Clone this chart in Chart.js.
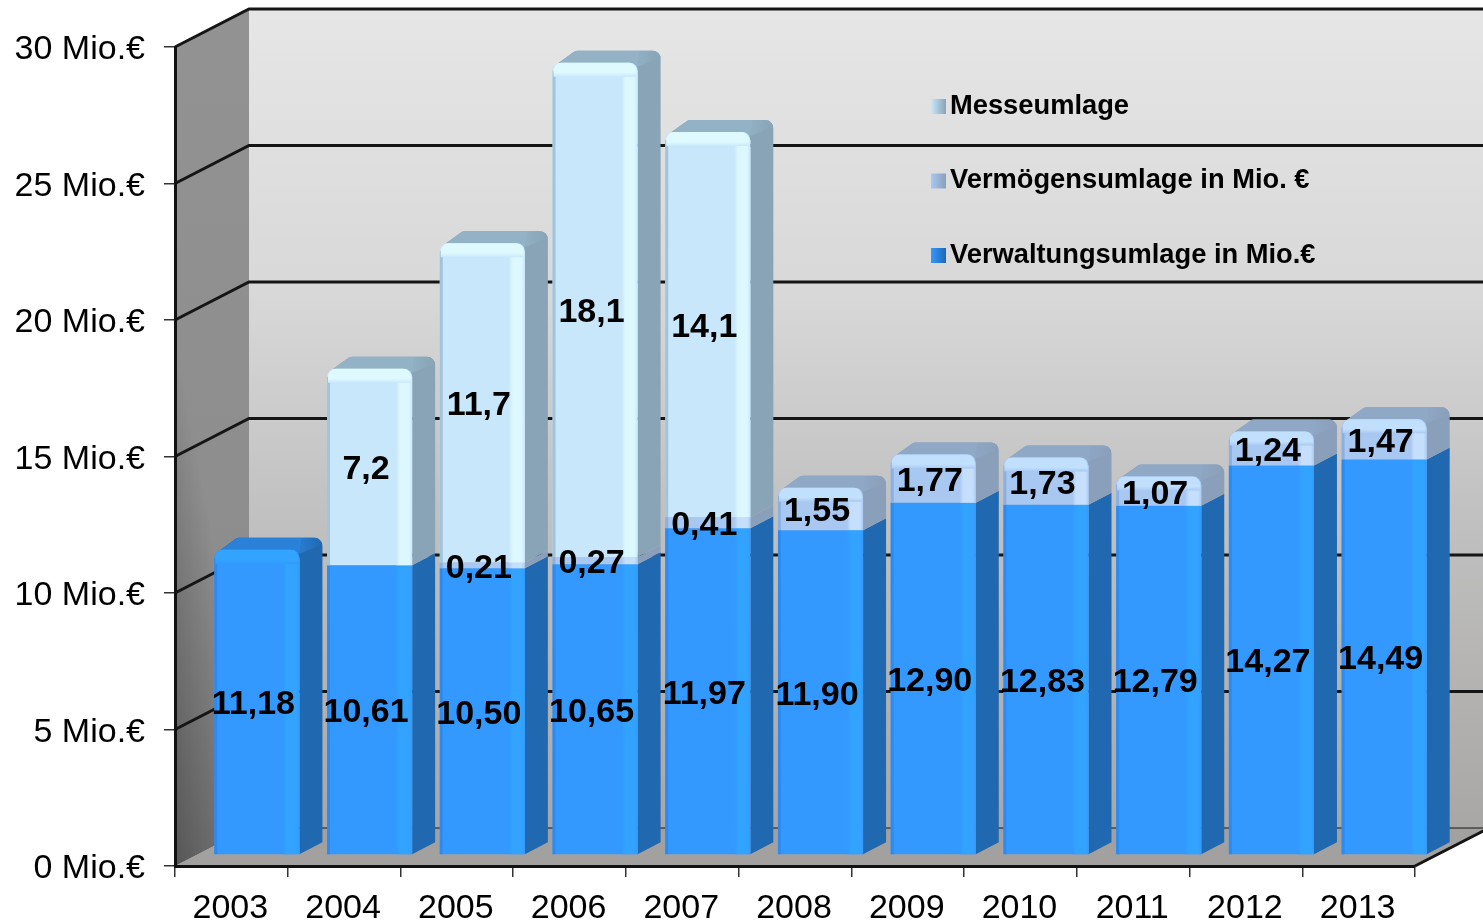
<!DOCTYPE html>
<html lang="de">
<head>
    <meta charset="UTF-8">
    <title>Umlagen 2003-2013</title>
    <style>
        html, body { margin: 0; padding: 0; background: #fff; }
        canvas { display: block; }
    </style>
</head>
<body>
    <canvas id="umlage-chart" width="1483" height="924"></canvas>

    <script src="https://cdn.jsdelivr.net/npm/chart.js"></script>
    <script>
        const years = ['2003', '2004', '2005', '2006', '2007', '2008', '2009', '2010', '2011', '2012', '2013'];
        const verwaltung = [11.18, 10.61, 10.50, 10.65, 11.97, 11.90, 12.90, 12.83, 12.79, 14.27, 14.49];
        const vermoegen = [null, null, 0.21, 0.27, 0.41, 1.55, 1.77, 1.73, 1.07, 1.24, 1.47];
        const messe = [null, 7.2, 11.7, 18.1, 14.1, null, null, null, null, null, null];
        const yTickLabels = ['0 Mio.€', '5 Mio.€', '10 Mio.€', '15 Mio.€', '20 Mio.€', '25 Mio.€', '30 Mio.€'];

        const wall = { x: 74, y: 38 };      // depth of the box
        const shift = { x: 25.5, y: 11 };   // bars stand a bit inside the box
        const depth = { x: 23, y: 12 };     // depth of a bar

        const looks = [
            { face: '#3399ff', side: '#2068b0', cap: '#2b80d8', shine: 'rgba(50,165,255,0.8)', edge: 'rgba(40,130,230,0.6)', top: 'rgba(50,165,255,0.9)', digits: 2 },
            { face: '#a8c8f2', side: '#8a9fb9', cap: '#8fa8c6', shine: 'rgba(205,228,255,0.8)', edge: 'rgba(130,170,220,0.8)', top: 'rgba(195,226,255,0.9)', digits: 2 },
            { face: '#c8e7fb', side: '#88a4b6', cap: '#93b2c5', shine: 'rgba(222,248,255,0.95)', edge: 'rgba(155,192,216,0.9)', top: 'rgba(222,250,255,1)', digits: 1 }
        ];

        function isTop(d, i, datasets) {
            for (let k = d + 1; k < datasets.length; k++) {
                if (datasets[k].data[i] != null) return false;
            }
            return true;
        }

        // polygon with round corners, r per point
        function roundPoly(ctx, pts, r) {
            ctx.beginPath();
            const n = pts.length;
            const last = pts[n - 1], first = pts[0];
            ctx.moveTo((last[0] + first[0]) / 2, (last[1] + first[1]) / 2);
            for (let i = 0; i < n; i++) {
                const p = pts[i], q = pts[(i + 1) % n];
                ctx.arcTo(p[0], p[1], q[0], q[1], r[i]);
            }
            ctx.closePath();
        }

        const boxPlugin = {
            id: 'box',
            beforeDraw(chart) {
                const ctx = chart.ctx, a = chart.chartArea, y = chart.scales.y;
                ctx.save();

                // back wall
                const back = ctx.createLinearGradient(0, a.top - wall.y, 0, a.bottom - wall.y);
                back.addColorStop(0, '#e6e6e6');
                back.addColorStop(0.35, '#d8d8d8');
                back.addColorStop(0.6, '#c2c2c2');
                back.addColorStop(1, '#a9a7a5');
                ctx.fillStyle = back;
                ctx.fillRect(a.left + wall.x, a.top - wall.y, a.width + wall.x, a.height);

                // floor
                ctx.fillStyle = '#a3a1a0';
                ctx.beginPath();
                ctx.moveTo(a.left, a.bottom);
                ctx.lineTo(a.left + wall.x, a.bottom - wall.y);
                ctx.lineTo(a.right + wall.x, a.bottom - wall.y);
                ctx.lineTo(a.right, a.bottom);
                ctx.closePath();
                ctx.fill();

                // left wall
                ctx.beginPath();
                ctx.moveTo(a.left, a.top);
                ctx.lineTo(a.left + wall.x, a.top - wall.y);
                ctx.lineTo(a.left + wall.x, a.bottom - wall.y);
                ctx.lineTo(a.left, a.bottom);
                ctx.closePath();
                const left = ctx.createLinearGradient(0, a.top, 0, a.bottom);
                left.addColorStop(0, '#929292');
                left.addColorStop(1, '#8a8a8a');
                ctx.fillStyle = left;
                ctx.fill();
                const shade = ctx.createLinearGradient(a.left, a.bottom, a.left + 96, a.bottom - 18);
                shade.addColorStop(0, 'rgba(0,0,0,0.38)');
                shade.addColorStop(1, 'rgba(0,0,0,0)');
                ctx.fillStyle = shade;
                ctx.fill();

                // grid lines run over the left wall and along the back
                y.ticks.forEach(t => {
                    const py = y.getPixelForValue(t.value);
                    ctx.strokeStyle = '#151515';
                    if (t.value === 0) {
                        ctx.lineWidth = 1;
                        ctx.beginPath();
                        ctx.moveTo(a.left + wall.x, py - wall.y);
                        ctx.lineTo(a.right + wall.x, py - wall.y);
                        ctx.stroke();
                        return;
                    }
                    ctx.lineWidth = 3;
                    ctx.beginPath();
                    ctx.moveTo(a.left, py);
                    ctx.lineTo(a.left + wall.x, py - wall.y);
                    ctx.lineTo(a.right + wall.x, py - wall.y);
                    ctx.stroke();
                });

                // floor edge on the right
                ctx.lineWidth = 3;
                ctx.beginPath();
                ctx.moveTo(a.right, a.bottom);
                ctx.lineTo(a.right + wall.x, a.bottom - wall.y);
                ctx.stroke();
                ctx.restore();
            }
        };

        const barPlugin = {
            id: 'bars3d',
            beforeDatasetsDraw(chart) {
                const ctx = chart.ctx, datasets = chart.data.datasets;
                ctx.save();
                ctx.translate(shift.x, -shift.y);
                datasets.forEach((ds, d) => {
                    const meta = chart.getDatasetMeta(d), look = looks[d];
                    meta.data.forEach((bar, i) => {
                        if (ds.data[i] == null) return;
                        const r = bar.x + bar.width / 2, l = bar.x - bar.width / 2;
                        const back = { x: r + depth.x, y: bar.y - depth.y };
                        ctx.fillStyle = look.side;
                        if (!isTop(d, i, datasets)) {
                            roundPoly(ctx, [[r, bar.y], [back.x, back.y], [back.x, bar.base - depth.y], [r, bar.base]], [0, 0, 0, 0]);
                            ctx.fill();
                            return;
                        }
                        // side and lid share one outline, lid is painted inside it
                        ctx.save();
                        roundPoly(ctx, [[l + 2, bar.y + 3], [l + depth.x, back.y], [back.x, back.y], [back.x, bar.base - depth.y], [r, bar.base], [r, bar.y + 8]],
                            [2, 7, 8, 0, 0, 0]);
                        ctx.fill();
                        ctx.clip();
                        const lid = ctx.createLinearGradient(r - 4, 0, back.x, 0);
                        lid.addColorStop(0, look.cap);
                        lid.addColorStop(1, look.side);
                        ctx.fillStyle = look.cap;
                        ctx.beginPath();
                        ctx.moveTo(l, bar.y + 4);
                        ctx.lineTo(l + depth.x, back.y - 2);
                        ctx.lineTo(r + 3, back.y - 2);
                        ctx.lineTo(r, bar.y + 4);
                        ctx.closePath();
                        ctx.fill();
                        ctx.fillStyle = lid;
                        ctx.beginPath();
                        ctx.moveTo(r, bar.y + 4);
                        ctx.lineTo(r + 3, back.y - 2);
                        ctx.lineTo(back.x + 2, back.y - 2);
                        ctx.lineTo(back.x + 2, back.y + 6);
                        ctx.closePath();
                        ctx.fill();
                        ctx.restore();
                    });
                });
            },
            afterDatasetsDraw(chart) {
                const ctx = chart.ctx, datasets = chart.data.datasets;
                // soft bevel strips on the front faces
                datasets.forEach((ds, d) => {
                    const meta = chart.getDatasetMeta(d), look = looks[d];
                    meta.data.forEach((bar, i) => {
                        if (ds.data[i] == null) return;
                        const r = bar.x + bar.width / 2, l = bar.x - bar.width / 2;
                        const h = bar.base - bar.y, topOne = isTop(d, i, datasets);
                        const inset = topOne ? Math.min(8, h) : 0;
                        const strip = ctx.createLinearGradient(r - 16, 0, r, 0);
                        strip.addColorStop(0, look.face);
                        strip.addColorStop(0.25, look.shine);
                        strip.addColorStop(0.8, look.shine);
                        strip.addColorStop(1, look.face);
                        ctx.fillStyle = strip;
                        ctx.fillRect(r - 16, bar.y + inset, 16, h - inset);
                        ctx.fillStyle = look.edge;
                        ctx.fillRect(l, bar.y + inset, 3, h - inset);
                        if (topOne) {
                            const lip = ctx.createLinearGradient(0, bar.y, 0, bar.y + 14);
                            lip.addColorStop(0, look.top);
                            lip.addColorStop(0.7, look.top);
                            lip.addColorStop(1, look.face);
                            ctx.fillStyle = lip;
                            roundPoly(ctx, [[l + 1, bar.y], [r - 1, bar.y], [r - 1, bar.y + 14], [l + 1, bar.y + 14]], [8, 8, 0, 0]);
                            ctx.fill();
                        }
                    });
                });
                ctx.restore();

                // value labels
                ctx.save();
                ctx.font = 'bold 34px "Liberation Sans"';
                ctx.fillStyle = '#000';
                ctx.textAlign = 'center';
                ctx.textBaseline = 'middle';
                datasets.forEach((ds, d) => {
                    const meta = chart.getDatasetMeta(d);
                    meta.data.forEach((bar, i) => {
                        if (ds.data[i] == null) return;
                        const text = ds.data[i].toFixed(looks[d].digits).replace('.', ',');
                        ctx.fillText(text, bar.x + shift.x - 3.5, (bar.y + bar.base) / 2 - shift.y + 3);
                    });
                });
                ctx.restore();

                // legend, top series first
                ctx.save();
                ctx.font = 'bold 27.3px "Liberation Sans"';
                ctx.textAlign = 'left';
                ctx.textBaseline = 'middle';
                [2, 1, 0].forEach((d, row) => {
                    const ly = 106 + row * 74.5;
                    const g = ctx.createLinearGradient(931, 0, 946, 0);
                    g.addColorStop(0, looks[d].face);
                    g.addColorStop(1, looks[d].side);
                    ctx.fillStyle = g;
                    ctx.fillRect(931, ly - 7, 15, 15);
                    ctx.fillStyle = '#000';
                    ctx.fillText(datasets[d].label, 950, ly);
                });
                ctx.restore();
            }
        };

        function makeSet(label, data, index) {
            return {
                label: label,
                data: data,
                backgroundColor: looks[index].face,
                borderWidth: 0,
                clip: false,
                borderRadius: c => isTop(c.datasetIndex, c.dataIndex, c.chart.data.datasets)
                    ? { topLeft: 8, topRight: 8, bottomLeft: 0, bottomRight: 0 } : 0,
                borderSkipped: false
            };
        }

        new Chart(document.getElementById('umlage-chart'), {
            type: 'bar',
            data: {
                labels: years,
                datasets: [
                    makeSet('Verwaltungsumlage in Mio.€', verwaltung, 0),
                    makeSet('Vermögensumlage in Mio. €', vermoegen, 1),
                    makeSet('Messeumlage', messe, 2)
                ]
            },
            options: {
                responsive: false,
                animation: false,
                barPercentage: 0.755,
                categoryPercentage: 1,
                layout: { padding: { top: 47, right: 68, left: 0, bottom: 0 } },
                plugins: { legend: { display: false }, tooltip: { enabled: false } },
                scales: {
                    x: {
                        stacked: true,
                        afterFit: s => { s.height = 58; },
                        border: { color: '#111', width: 3 },
                        grid: { drawOnChartArea: false, tickLength: 11, color: '#333', lineWidth: 1.5 },
                        ticks: { color: '#000', font: { family: 'Liberation Sans', size: 34 }, padding: 11, labelOffset: -1, maxRotation: 0, autoSkip: false }
                    },
                    y: {
                        stacked: true,
                        min: 0,
                        max: 30,
                        afterFit: s => { s.width = 175; },
                        border: { color: '#111', width: 3 },
                        grid: { drawOnChartArea: false, tickLength: 11, color: '#333', lineWidth: 1.5 },
                        ticks: {
                            stepSize: 5,
                            color: '#000',
                            font: { family: 'Liberation Sans', size: 34 },
                            padding: 19,
                            labelOffset: 3,
                            callback: (value, index) => yTickLabels[index]
                        }
                    }
                }
            },
            plugins: [boxPlugin, barPlugin]
        });
    </script>
</body>
</html>
